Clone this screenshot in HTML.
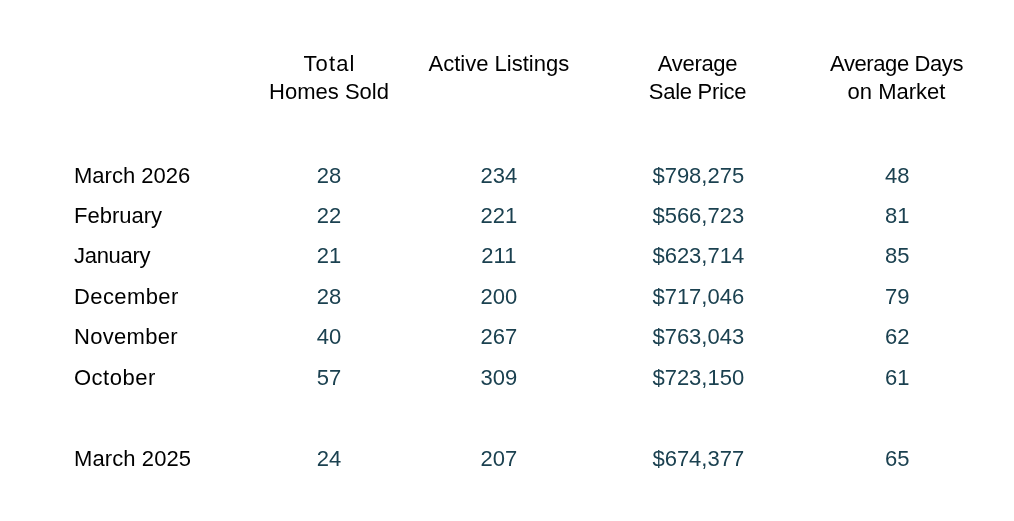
<!DOCTYPE html>
<html>
<head>
<meta charset="utf-8">
<style>
html,body{margin:0;padding:0;background:#fff;}
body{width:1014px;height:521px;position:relative;overflow:hidden;font-family:"Liberation Sans",Arial,sans-serif;font-size:22px;}
.t{position:absolute;white-space:nowrap;line-height:22px;height:22px;}
.h{color:#000;text-align:center;width:200px;}
.l{color:#000;left:74px;}
.n{color:#1b4150;text-align:center;width:200px;}
</style>
</head>
<body>
<div id="w" style="position:absolute;left:0;top:0;width:1014px;height:521px;will-change:transform;">
<!-- headers: center positions -->
<div class="t h" style="left:229.5px;top:53px;letter-spacing:1.1px">Total</div>
<div class="t h" style="left:229px;top:81px">Homes Sold</div>
<div class="t h" style="left:398.9px;top:53px">Active Listings</div>
<div class="t h" style="left:597.5px;top:53px;letter-spacing:-0.3px">Average</div>
<div class="t h" style="left:597.5px;top:81px;letter-spacing:-0.3px">Sale Price</div>
<div class="t h" style="left:796.5px;top:53px;letter-spacing:-0.4px">Average Days</div>
<div class="t h" style="left:796.5px;top:81px">on Market</div>

<div class="t l" style="top:165px">March 2026</div>
<div class="t l" style="top:205px">February</div>
<div class="t l" style="top:245px;letter-spacing:-0.3px">January</div>
<div class="t l" style="top:286px;letter-spacing:0.4px">December</div>
<div class="t l" style="top:326px;letter-spacing:0.3px">November</div>
<div class="t l" style="top:367px;letter-spacing:0.5px">October</div>
<div class="t l" style="top:448px;letter-spacing:0.1px">March 2025</div>

<div class="t n" style="left:229px;top:165px">28</div>
<div class="t n" style="left:229px;top:205px">22</div>
<div class="t n" style="left:229px;top:245px">21</div>
<div class="t n" style="left:229px;top:286px">28</div>
<div class="t n" style="left:229px;top:326px">40</div>
<div class="t n" style="left:229px;top:367px">57</div>
<div class="t n" style="left:229px;top:448px">24</div>

<div class="t n" style="left:398.9px;top:165px">234</div>
<div class="t n" style="left:398.9px;top:205px">221</div>
<div class="t n" style="left:398.9px;top:245px">211</div>
<div class="t n" style="left:398.9px;top:286px">200</div>
<div class="t n" style="left:398.9px;top:326px">267</div>
<div class="t n" style="left:398.9px;top:367px">309</div>
<div class="t n" style="left:398.9px;top:448px">207</div>

<div class="t n" style="left:598.3px;top:165px">$798,275</div>
<div class="t n" style="left:598.3px;top:205px">$566,723</div>
<div class="t n" style="left:598.3px;top:245px">$623,714</div>
<div class="t n" style="left:598.3px;top:286px">$717,046</div>
<div class="t n" style="left:598.3px;top:326px">$763,043</div>
<div class="t n" style="left:598.3px;top:367px">$723,150</div>
<div class="t n" style="left:598.3px;top:448px">$674,377</div>

<div class="t n" style="left:797.2px;top:165px">48</div>
<div class="t n" style="left:797.2px;top:205px">81</div>
<div class="t n" style="left:797.2px;top:245px">85</div>
<div class="t n" style="left:797.2px;top:286px">79</div>
<div class="t n" style="left:797.2px;top:326px">62</div>
<div class="t n" style="left:797.2px;top:367px">61</div>
<div class="t n" style="left:797.2px;top:448px">65</div>
</div>
</body>
</html>
